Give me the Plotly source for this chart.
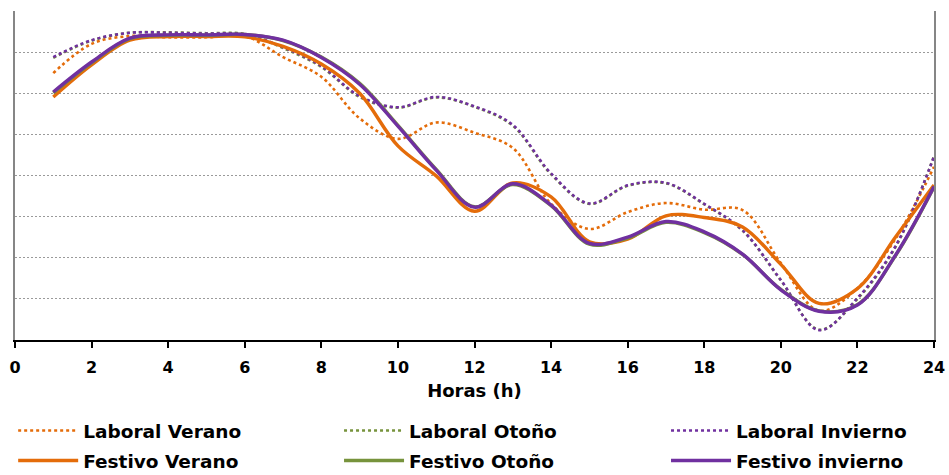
import plotly.graph_objects as go

hours = list(range(1, 25))

laboral_verano = [6.49, 7.20, 7.39, 7.36, 7.36, 7.39, 6.88, 6.40, 5.39, 4.89, 5.29, 5.04,
                  4.67, 3.31, 2.70, 3.11, 3.33, 3.17, 3.16, 1.87, 0.71, 1.26, 2.47, 4.21]
laboral_otono = [6.86, 7.28, 7.47, 7.48, 7.46, 7.44, 7.10, 6.64, 5.91, 5.65, 5.90, 5.67,
                 5.21, 4.03, 3.31, 3.75, 3.81, 3.30, 2.66, 1.45, 0.25, 1.00, 2.27, 4.47]
laboral_invierno = [6.88, 7.29, 7.47, 7.47, 7.45, 7.43, 7.12, 6.66, 5.93, 5.66, 5.91, 5.68,
                    5.23, 4.05, 3.32, 3.76, 3.82, 3.31, 2.67, 1.46, 0.24, 1.02, 2.29, 4.46]
festivo_verano = [5.91, 6.69, 7.29, 7.38, 7.38, 7.37, 7.14, 6.71, 6.00, 4.72, 3.99, 3.13,
                  3.82, 3.48, 2.39, 2.45, 3.02, 2.98, 2.75, 1.84, 0.89, 1.25, 2.51, 3.77]
festivo_otono = [6.01, 6.74, 7.33, 7.41, 7.41, 7.43, 7.28, 6.88, 6.24, 5.22, 4.15, 3.24,
                 3.78, 3.27, 2.33, 2.48, 2.86, 2.61, 2.08, 1.23, 0.71, 0.86, 2.06, 3.72]
festivo_invierno = [6.03, 6.76, 7.34, 7.42, 7.42, 7.43, 7.29, 6.87, 6.22, 5.20, 4.13, 3.23,
                    3.80, 3.28, 2.35, 2.50, 2.88, 2.63, 2.09, 1.22, 0.70, 0.85, 2.07, 3.73]

x_ticks = list(range(0, 25, 2))

ORANGE = "#E46C0A"
GREEN = "#77933C"
PURPLE = "#7030A0"
FONT = "DejaVu Sans"

series = [
    ("Laboral Verano", laboral_verano, ORANGE, "dot", 2.6, "legend"),
    ("Festivo Verano", festivo_verano, ORANGE, "solid", 3.4, "legend"),
    ("Laboral Otoño", laboral_otono, GREEN, "dot", 2.6, "legend2"),
    ("Festivo Otoño", festivo_otono, GREEN, "solid", 3.4, "legend2"),
    ("Laboral Invierno", laboral_invierno, PURPLE, "dot", 2.6, "legend3"),
    ("Festivo invierno", festivo_invierno, PURPLE, "solid", 3.4, "legend3"),
]

fig = go.Figure()
draw_order = [0, 2, 4, 1, 3, 5]
for i in draw_order:
    name, vals, col, dash, w, lg = series[i]
    fig.add_trace(go.Scatter(
        x=hours, y=vals, name=name, mode="lines",
        line=dict(color=col, dash=dash, width=w, shape="spline", smoothing=1),
        legend=lg, legendrank=i, legendgroup=name,
    ))

legend_common = dict(
    orientation="v", yanchor="bottom", xanchor="left", y=-0.4255,
    font=dict(family=FONT, size=18.5, color="#000000", weight="bold"),
    itemwidth=60, tracegroupgap=3, bgcolor="rgba(0,0,0,0)",
    traceorder="grouped",
)

fig.update_layout(
    width=949, height=475,
    margin=dict(l=15, r=15, t=11, b=135, autoexpand=False),
    paper_bgcolor="white", plot_bgcolor="white",
    showlegend=True,
    legend=dict(x=-0.002, **legend_common),
    legend2=dict(x=0.3526, **legend_common),
    legend3=dict(x=0.7084, **legend_common),
    xaxis=dict(
        range=[0, 24], tickvals=x_ticks, ticktext=[str(t) for t in x_ticks],
        showgrid=False, zeroline=False, showline=True, linecolor="#000000", linewidth=2,
        ticks="outside", ticklen=6, tickwidth=2, tickcolor="#000000", automargin=False,
        ticklabelstandoff=6,
        tickfont=dict(family=FONT, size=16, color="#000000", weight="bold"),
        title=dict(text="Horas (h)", font=dict(family=FONT, size=18, color="#000000", weight="bold"), standoff=8),
    ),
    yaxis=dict(
        range=[0, 8], dtick=1, showticklabels=False, ticks="", automargin=False,
        showgrid=True, gridcolor="#9A9A9A", griddash="2px,2px", gridwidth=1,
        zeroline=False, showline=True, linecolor="#868686", linewidth=2, mirror=True,
    ),
)

fig.write_html("out.html", config={"displayModeBar": False},
               post_script="document.body.style.margin='0';")
